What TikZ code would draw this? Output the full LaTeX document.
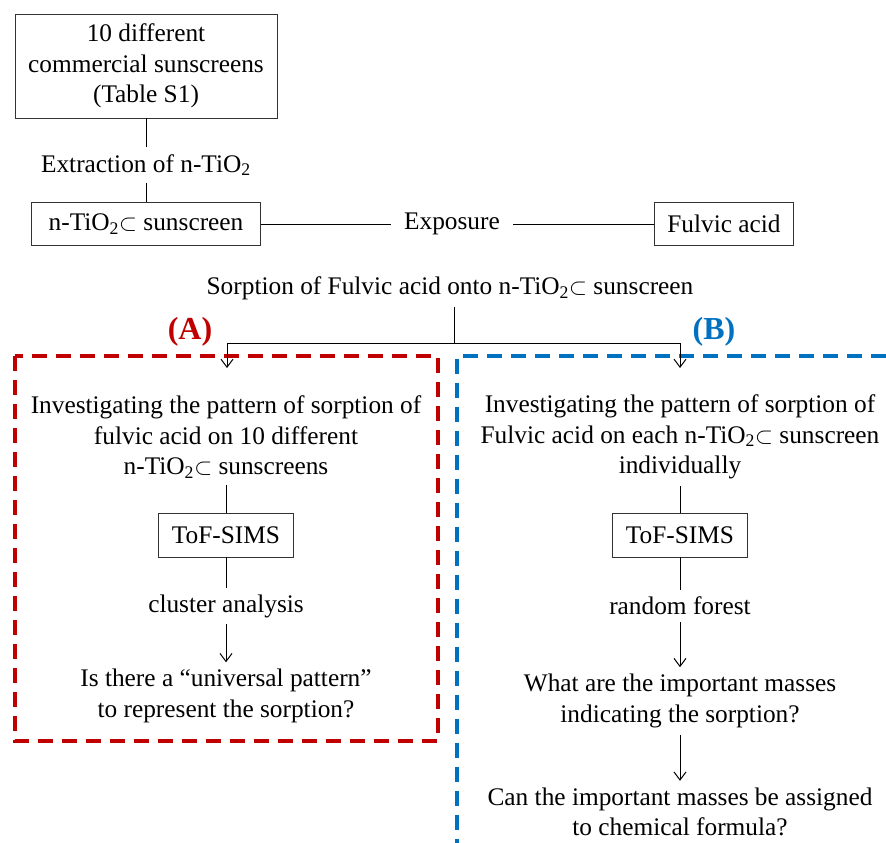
\documentclass[tikz,border=0pt]{standalone}
\usepackage{fontspec}
\setmainfont{Liberation Serif}
\usetikzlibrary{positioning,arrows.meta}
\definecolor{frameRed}{RGB}{192,0,0}
\definecolor{frameBlue}{RGB}{0,112,192}

\tikzset{
  txt/.style={inner sep=5pt, align=center, font=\fontsize{19}{23}\selectfont},
  box/.style={txt, draw=black!80, line width=0.7pt},
  link/.style={line width=0.75pt},
  flow/.style={link, -{Straight Barb[length=6pt,width=9pt]}},
  tag/.style={inner sep=0pt, font=\fontsize{24}{28}\selectfont\bfseries},
  frame/.style={line width=2.6pt, dash pattern=on 11.5pt off 6.5pt},
}

\begin{document}
\begin{tikzpicture}[x=0.75pt,y=0.75pt,yscale=-1,xscale=1]
    \useasboundingbox (0,0) rectangle (886,843);

    % Dashed frames
    \draw [frame, frameRed] (15,356) rectangle (438,741);
    \draw [frame, frameBlue] (886,356) -- (457,356) -- (457,843);

    % Top part
    \node [box, minimum width=196.5pt, minimum height=78pt] (src) at (146,66) {10 different\\commercial sunscreens\\(Table S1)};
    \node [txt] (extr) at (146,165) {Extraction of n-TiO\textsubscript{2}};
    \node [box, minimum width=171.75pt, minimum height=32.25pt] (tio) at (146,224) {n-TiO\textsubscript{2}$\subset$ sunscreen};
    \node [txt, inner xsep=10pt] (expo) at (452,224) {Exposure};
    \node [box, minimum width=104.25pt, minimum height=32.25pt] (fa) at (724,224) {Fulvic acid};
    \node [txt] (sorp) at (450,288) {Sorption of Fulvic acid onto n-TiO\textsubscript{2}$\subset$ sunscreen};

    \draw [link] (src) -- (extr);
    \draw [link] (extr) -- (tio);
    \draw [link] (tio) -- (expo);
    \draw [link] (expo) -- (fa);

    % Split into (A) and (B)
    \coordinate (jn) at (454,343);
    \coordinate (tipA) at (227,368);
    \coordinate (tipB) at (680,368);
    \draw [link] (jn |- sorp.south) -- (jn);
    \draw [flow] (jn) -| (tipA);
    \draw [flow] (jn) -| (tipB);
    \node [tag, text=frameRed] (labA) at (190,332) {(A)};
    \node [tag, text=frameBlue] (labB) at (714,332) {(B)};

    % Column (A)
    \node [txt] (invA) at (226,437) {Investigating the pattern of sorption of\\fulvic acid on 10 different\\n-TiO\textsubscript{2}$\subset$ sunscreens};
    \node [box, minimum width=101.25pt, minimum height=33pt] (simsA) at (226,535) {ToF-SIMS};
    \node [txt] (clus) at (226,606) {cluster analysis};
    \node [txt] (univ) at (226,696) {Is there a “universal pattern”\\to represent the sorption?};
    \draw [link] (invA) -- (simsA);
    \draw [link] (simsA) -- (clus);
    \draw [flow] (clus) -- (univ);

    % Column (B)
    \node [txt] (invB) at (680,437) {Investigating the pattern of sorption of\\Fulvic acid on each n-TiO\textsubscript{2}$\subset$ sunscreen\\individually};
    \node [box, minimum width=101.25pt, minimum height=33pt] (simsB) at (680,535) {ToF-SIMS};
    \node [txt] (rf) at (680,606) {random forest};
    \node [txt] (mass) at (680,701) {What are the important masses\\indicating the sorption?};
    \node [txt] (form) at (680,812) {Can the important masses be assigned\\to chemical formula?};
    \draw [link] (invB) -- (simsB);
    \draw [link] (simsB) -- (rf);
    \draw [flow] (rf) -- (mass);
    \draw [flow] (mass) -- (form);

\end{tikzpicture}
\end{document}
